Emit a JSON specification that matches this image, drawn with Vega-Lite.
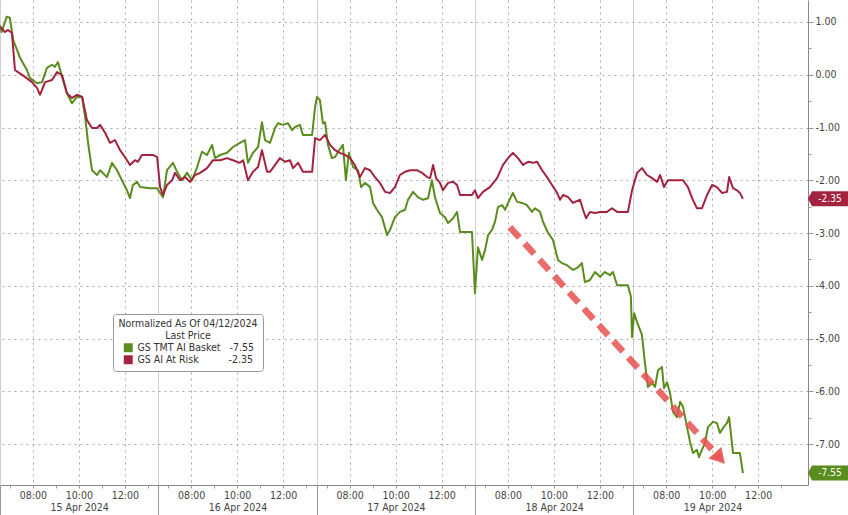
{
  "$schema": "https://vega.github.io/schema/vega-lite/v6.json",
  "width": 808,
  "height": 485,
  "autosize": "none",
  "padding": {"left": 0, "top": 0, "right": 40, "bottom": 30},
  "background": "white",
  "view": {"stroke": null},
  "config": {
    "font": "Liberation Sans Narrow, DejaVu Sans Condensed, sans-serif",
    "locale": {"number": {"decimal": ".", "thousands": ",", "grouping": [3], "currency": ["$", ""], "minus": "-"}},
    "axis": {"labelColor": "#444", "labelFontSize": 10.5, "tickColor": "#999", "domainColor": "#888", "title": null}
  },
  "datasets": {
    "series": [
      {"s":"GS TMT AI Basket","t":0.00,"v":0.94},{"s":"GS TMT AI Basket","t":0.07,"v":0.81},{"s":"GS TMT AI Basket","t":0.29,"v":1.10},{"s":"GS TMT AI Basket","t":0.43,"v":1.08},{"s":"GS TMT AI Basket","t":0.57,"v":0.66},{"s":"GS TMT AI Basket","t":0.74,"v":0.47},{"s":"GS TMT AI Basket","t":0.87,"v":0.32},{"s":"GS TMT AI Basket","t":1.17,"v":0.09},{"s":"GS TMT AI Basket","t":1.30,"v":-0.06},{"s":"GS TMT AI Basket","t":1.61,"v":-0.16},{"s":"GS TMT AI Basket","t":1.83,"v":-0.14},{"s":"GS TMT AI Basket","t":2.04,"v":0.13},{"s":"GS TMT AI Basket","t":2.26,"v":0.19},{"s":"GS TMT AI Basket","t":2.39,"v":0.15},{"s":"GS TMT AI Basket","t":2.52,"v":0.24},{"s":"GS TMT AI Basket","t":2.70,"v":-0.04},{"s":"GS TMT AI Basket","t":2.91,"v":-0.35},{"s":"GS TMT AI Basket","t":3.13,"v":-0.54},{"s":"GS TMT AI Basket","t":3.35,"v":-0.42},{"s":"GS TMT AI Basket","t":3.57,"v":-0.42},{"s":"GS TMT AI Basket","t":3.70,"v":-0.80},{"s":"GS TMT AI Basket","t":3.83,"v":-1.29},{"s":"GS TMT AI Basket","t":4.00,"v":-1.81},{"s":"GS TMT AI Basket","t":4.22,"v":-1.90},{"s":"GS TMT AI Basket","t":4.35,"v":-1.81},{"s":"GS TMT AI Basket","t":4.65,"v":-1.94},{"s":"GS TMT AI Basket","t":4.87,"v":-1.67},{"s":"GS TMT AI Basket","t":5.09,"v":-1.81},{"s":"GS TMT AI Basket","t":5.30,"v":-2.00},{"s":"GS TMT AI Basket","t":5.52,"v":-2.19},{"s":"GS TMT AI Basket","t":5.65,"v":-2.34},{"s":"GS TMT AI Basket","t":5.78,"v":-2.09},{"s":"GS TMT AI Basket","t":5.96,"v":-2.03},{"s":"GS TMT AI Basket","t":6.09,"v":-2.13},{"s":"GS TMT AI Basket","t":6.52,"v":-2.15},{"s":"GS TMT AI Basket","t":6.83,"v":-2.15},{"s":"GS TMT AI Basket","t":6.96,"v":-2.24},{"s":"GS TMT AI Basket","t":7.09,"v":-2.32},{"s":"GS TMT AI Basket","t":7.26,"v":-1.81},{"s":"GS TMT AI Basket","t":7.52,"v":-1.67},{"s":"GS TMT AI Basket","t":7.70,"v":-1.84},{"s":"GS TMT AI Basket","t":7.91,"v":-2.00},{"s":"GS TMT AI Basket","t":8.13,"v":-1.86},{"s":"GS TMT AI Basket","t":8.35,"v":-2.00},{"s":"GS TMT AI Basket","t":8.57,"v":-1.75},{"s":"GS TMT AI Basket","t":8.78,"v":-1.46},{"s":"GS TMT AI Basket","t":9.00,"v":-1.52},{"s":"GS TMT AI Basket","t":9.22,"v":-1.33},{"s":"GS TMT AI Basket","t":9.35,"v":-1.58},{"s":"GS TMT AI Basket","t":9.57,"v":-1.52},{"s":"GS TMT AI Basket","t":9.87,"v":-1.48},{"s":"GS TMT AI Basket","t":10.13,"v":-1.37},{"s":"GS TMT AI Basket","t":10.43,"v":-1.29},{"s":"GS TMT AI Basket","t":10.65,"v":-1.24},{"s":"GS TMT AI Basket","t":10.78,"v":-1.67},{"s":"GS TMT AI Basket","t":11.00,"v":-1.48},{"s":"GS TMT AI Basket","t":11.22,"v":-1.37},{"s":"GS TMT AI Basket","t":11.39,"v":-0.90},{"s":"GS TMT AI Basket","t":11.52,"v":-1.24},{"s":"GS TMT AI Basket","t":11.74,"v":-1.29},{"s":"GS TMT AI Basket","t":11.96,"v":-1.01},{"s":"GS TMT AI Basket","t":12.09,"v":-0.92},{"s":"GS TMT AI Basket","t":12.30,"v":-0.95},{"s":"GS TMT AI Basket","t":12.52,"v":-0.92},{"s":"GS TMT AI Basket","t":12.70,"v":-1.05},{"s":"GS TMT AI Basket","t":12.83,"v":-0.99},{"s":"GS TMT AI Basket","t":13.04,"v":-0.95},{"s":"GS TMT AI Basket","t":13.17,"v":-1.14},{"s":"GS TMT AI Basket","t":13.57,"v":-1.14},{"s":"GS TMT AI Basket","t":13.70,"v":-0.61},{"s":"GS TMT AI Basket","t":13.78,"v":-0.42},{"s":"GS TMT AI Basket","t":13.91,"v":-0.48},{"s":"GS TMT AI Basket","t":14.04,"v":-0.92},{"s":"GS TMT AI Basket","t":14.13,"v":-0.90},{"s":"GS TMT AI Basket","t":14.26,"v":-1.33},{"s":"GS TMT AI Basket","t":14.43,"v":-1.58},{"s":"GS TMT AI Basket","t":14.57,"v":-1.56},{"s":"GS TMT AI Basket","t":14.70,"v":-1.46},{"s":"GS TMT AI Basket","t":14.91,"v":-1.33},{"s":"GS TMT AI Basket","t":15.04,"v":-2.00},{"s":"GS TMT AI Basket","t":15.17,"v":-1.48},{"s":"GS TMT AI Basket","t":15.35,"v":-1.75},{"s":"GS TMT AI Basket","t":15.57,"v":-1.81},{"s":"GS TMT AI Basket","t":15.70,"v":-2.13},{"s":"GS TMT AI Basket","t":15.87,"v":-2.05},{"s":"GS TMT AI Basket","t":16.09,"v":-2.13},{"s":"GS TMT AI Basket","t":16.22,"v":-2.43},{"s":"GS TMT AI Basket","t":16.39,"v":-2.56},{"s":"GS TMT AI Basket","t":16.61,"v":-2.70},{"s":"GS TMT AI Basket","t":16.83,"v":-3.04},{"s":"GS TMT AI Basket","t":16.96,"v":-2.94},{"s":"GS TMT AI Basket","t":17.17,"v":-2.70},{"s":"GS TMT AI Basket","t":17.39,"v":-2.60},{"s":"GS TMT AI Basket","t":17.61,"v":-2.56},{"s":"GS TMT AI Basket","t":17.74,"v":-2.37},{"s":"GS TMT AI Basket","t":17.96,"v":-2.22},{"s":"GS TMT AI Basket","t":18.17,"v":-2.32},{"s":"GS TMT AI Basket","t":18.39,"v":-2.37},{"s":"GS TMT AI Basket","t":18.61,"v":-2.34},{"s":"GS TMT AI Basket","t":18.78,"v":-2.00},{"s":"GS TMT AI Basket","t":18.91,"v":-2.32},{"s":"GS TMT AI Basket","t":19.13,"v":-2.62},{"s":"GS TMT AI Basket","t":19.35,"v":-2.70},{"s":"GS TMT AI Basket","t":19.48,"v":-2.81},{"s":"GS TMT AI Basket","t":19.70,"v":-2.72},{"s":"GS TMT AI Basket","t":19.87,"v":-2.60},{"s":"GS TMT AI Basket","t":20.00,"v":-2.98},{"s":"GS TMT AI Basket","t":20.52,"v":-2.98},{"s":"GS TMT AI Basket","t":20.65,"v":-4.14},{"s":"GS TMT AI Basket","t":20.78,"v":-3.27},{"s":"GS TMT AI Basket","t":20.96,"v":-3.51},{"s":"GS TMT AI Basket","t":21.09,"v":-3.32},{"s":"GS TMT AI Basket","t":21.22,"v":-3.04},{"s":"GS TMT AI Basket","t":21.39,"v":-2.94},{"s":"GS TMT AI Basket","t":21.52,"v":-2.79},{"s":"GS TMT AI Basket","t":21.65,"v":-2.51},{"s":"GS TMT AI Basket","t":21.83,"v":-2.47},{"s":"GS TMT AI Basket","t":21.96,"v":-2.56},{"s":"GS TMT AI Basket","t":22.09,"v":-2.43},{"s":"GS TMT AI Basket","t":22.30,"v":-2.24},{"s":"GS TMT AI Basket","t":22.48,"v":-2.41},{"s":"GS TMT AI Basket","t":22.70,"v":-2.43},{"s":"GS TMT AI Basket","t":22.91,"v":-2.47},{"s":"GS TMT AI Basket","t":23.13,"v":-2.60},{"s":"GS TMT AI Basket","t":23.26,"v":-2.53},{"s":"GS TMT AI Basket","t":23.48,"v":-2.60},{"s":"GS TMT AI Basket","t":23.61,"v":-2.79},{"s":"GS TMT AI Basket","t":23.83,"v":-3.00},{"s":"GS TMT AI Basket","t":24.04,"v":-3.13},{"s":"GS TMT AI Basket","t":24.26,"v":-3.51},{"s":"GS TMT AI Basket","t":24.43,"v":-3.57},{"s":"GS TMT AI Basket","t":24.65,"v":-3.61},{"s":"GS TMT AI Basket","t":24.91,"v":-3.70},{"s":"GS TMT AI Basket","t":25.13,"v":-3.65},{"s":"GS TMT AI Basket","t":25.30,"v":-3.57},{"s":"GS TMT AI Basket","t":25.43,"v":-3.93},{"s":"GS TMT AI Basket","t":25.65,"v":-3.89},{"s":"GS TMT AI Basket","t":25.87,"v":-3.74},{"s":"GS TMT AI Basket","t":26.09,"v":-3.83},{"s":"GS TMT AI Basket","t":26.30,"v":-3.74},{"s":"GS TMT AI Basket","t":26.52,"v":-3.80},{"s":"GS TMT AI Basket","t":26.65,"v":-3.74},{"s":"GS TMT AI Basket","t":26.83,"v":-3.99},{"s":"GS TMT AI Basket","t":27.30,"v":-3.99},{"s":"GS TMT AI Basket","t":27.43,"v":-4.21},{"s":"GS TMT AI Basket","t":27.48,"v":-4.97},{"s":"GS TMT AI Basket","t":27.57,"v":-4.52},{"s":"GS TMT AI Basket","t":27.70,"v":-4.69},{"s":"GS TMT AI Basket","t":27.91,"v":-4.93},{"s":"GS TMT AI Basket","t":28.04,"v":-5.46},{"s":"GS TMT AI Basket","t":28.17,"v":-5.92},{"s":"GS TMT AI Basket","t":28.35,"v":-5.84},{"s":"GS TMT AI Basket","t":28.48,"v":-5.92},{"s":"GS TMT AI Basket","t":28.61,"v":-5.60},{"s":"GS TMT AI Basket","t":28.78,"v":-5.54},{"s":"GS TMT AI Basket","t":28.87,"v":-5.94},{"s":"GS TMT AI Basket","t":29.00,"v":-5.83},{"s":"GS TMT AI Basket","t":29.13,"v":-6.03},{"s":"GS TMT AI Basket","t":29.26,"v":-6.39},{"s":"GS TMT AI Basket","t":29.43,"v":-6.49},{"s":"GS TMT AI Basket","t":29.57,"v":-6.20},{"s":"GS TMT AI Basket","t":29.70,"v":-6.30},{"s":"GS TMT AI Basket","t":29.87,"v":-6.68},{"s":"GS TMT AI Basket","t":30.00,"v":-6.96},{"s":"GS TMT AI Basket","t":30.13,"v":-7.17},{"s":"GS TMT AI Basket","t":30.30,"v":-7.11},{"s":"GS TMT AI Basket","t":30.39,"v":-7.25},{"s":"GS TMT AI Basket","t":30.52,"v":-7.11},{"s":"GS TMT AI Basket","t":30.65,"v":-6.98},{"s":"GS TMT AI Basket","t":30.78,"v":-6.68},{"s":"GS TMT AI Basket","t":31.00,"v":-6.58},{"s":"GS TMT AI Basket","t":31.17,"v":-6.60},{"s":"GS TMT AI Basket","t":31.30,"v":-6.79},{"s":"GS TMT AI Basket","t":31.43,"v":-6.70},{"s":"GS TMT AI Basket","t":31.61,"v":-6.60},{"s":"GS TMT AI Basket","t":31.70,"v":-6.49},{"s":"GS TMT AI Basket","t":31.87,"v":-7.17},{"s":"GS TMT AI Basket","t":32.17,"v":-7.17},{"s":"GS TMT AI Basket","t":32.30,"v":-7.55},
      {"s":"GS AI At Risk","t":0.00,"v":0.91},{"s":"GS AI At Risk","t":0.22,"v":0.81},{"s":"GS AI At Risk","t":0.35,"v":0.85},{"s":"GS AI At Risk","t":0.52,"v":0.79},{"s":"GS AI At Risk","t":0.65,"v":0.09},{"s":"GS AI At Risk","t":0.78,"v":0.05},{"s":"GS AI At Risk","t":1.09,"v":-0.04},{"s":"GS AI At Risk","t":1.39,"v":-0.14},{"s":"GS AI At Risk","t":1.61,"v":-0.25},{"s":"GS AI At Risk","t":1.74,"v":-0.38},{"s":"GS AI At Risk","t":1.96,"v":-0.14},{"s":"GS AI At Risk","t":2.26,"v":-0.10},{"s":"GS AI At Risk","t":2.48,"v":0.05},{"s":"GS AI At Risk","t":2.70,"v":-0.01},{"s":"GS AI At Risk","t":2.91,"v":-0.35},{"s":"GS AI At Risk","t":3.13,"v":-0.44},{"s":"GS AI At Risk","t":3.35,"v":-0.38},{"s":"GS AI At Risk","t":3.57,"v":-0.42},{"s":"GS AI At Risk","t":3.78,"v":-0.86},{"s":"GS AI At Risk","t":4.00,"v":-1.01},{"s":"GS AI At Risk","t":4.22,"v":-1.01},{"s":"GS AI At Risk","t":4.35,"v":-0.95},{"s":"GS AI At Risk","t":4.57,"v":-1.10},{"s":"GS AI At Risk","t":4.78,"v":-1.29},{"s":"GS AI At Risk","t":5.00,"v":-1.24},{"s":"GS AI At Risk","t":5.22,"v":-1.43},{"s":"GS AI At Risk","t":5.43,"v":-1.56},{"s":"GS AI At Risk","t":5.65,"v":-1.71},{"s":"GS AI At Risk","t":5.87,"v":-1.62},{"s":"GS AI At Risk","t":6.00,"v":-1.65},{"s":"GS AI At Risk","t":6.17,"v":-1.52},{"s":"GS AI At Risk","t":6.65,"v":-1.52},{"s":"GS AI At Risk","t":6.83,"v":-1.56},{"s":"GS AI At Risk","t":6.96,"v":-2.13},{"s":"GS AI At Risk","t":7.09,"v":-2.28},{"s":"GS AI At Risk","t":7.26,"v":-2.09},{"s":"GS AI At Risk","t":7.48,"v":-2.00},{"s":"GS AI At Risk","t":7.61,"v":-1.86},{"s":"GS AI At Risk","t":7.83,"v":-2.00},{"s":"GS AI At Risk","t":8.04,"v":-1.94},{"s":"GS AI At Risk","t":8.26,"v":-2.03},{"s":"GS AI At Risk","t":8.48,"v":-1.90},{"s":"GS AI At Risk","t":8.70,"v":-1.86},{"s":"GS AI At Risk","t":9.00,"v":-1.77},{"s":"GS AI At Risk","t":9.26,"v":-1.62},{"s":"GS AI At Risk","t":9.57,"v":-1.62},{"s":"GS AI At Risk","t":9.87,"v":-1.58},{"s":"GS AI At Risk","t":10.13,"v":-1.62},{"s":"GS AI At Risk","t":10.43,"v":-1.67},{"s":"GS AI At Risk","t":10.57,"v":-1.62},{"s":"GS AI At Risk","t":10.78,"v":-2.00},{"s":"GS AI At Risk","t":11.00,"v":-1.84},{"s":"GS AI At Risk","t":11.22,"v":-1.75},{"s":"GS AI At Risk","t":11.39,"v":-1.43},{"s":"GS AI At Risk","t":11.61,"v":-1.84},{"s":"GS AI At Risk","t":11.74,"v":-1.84},{"s":"GS AI At Risk","t":11.96,"v":-1.71},{"s":"GS AI At Risk","t":12.17,"v":-1.58},{"s":"GS AI At Risk","t":12.39,"v":-1.65},{"s":"GS AI At Risk","t":12.61,"v":-1.62},{"s":"GS AI At Risk","t":12.74,"v":-1.77},{"s":"GS AI At Risk","t":12.96,"v":-1.67},{"s":"GS AI At Risk","t":13.17,"v":-1.84},{"s":"GS AI At Risk","t":13.57,"v":-1.84},{"s":"GS AI At Risk","t":13.70,"v":-1.20},{"s":"GS AI At Risk","t":13.91,"v":-1.24},{"s":"GS AI At Risk","t":14.13,"v":-1.14},{"s":"GS AI At Risk","t":14.35,"v":-1.33},{"s":"GS AI At Risk","t":14.57,"v":-1.43},{"s":"GS AI At Risk","t":14.78,"v":-1.48},{"s":"GS AI At Risk","t":15.00,"v":-1.52},{"s":"GS AI At Risk","t":15.22,"v":-1.58},{"s":"GS AI At Risk","t":15.43,"v":-1.71},{"s":"GS AI At Risk","t":15.65,"v":-1.94},{"s":"GS AI At Risk","t":15.87,"v":-1.77},{"s":"GS AI At Risk","t":16.09,"v":-1.81},{"s":"GS AI At Risk","t":16.30,"v":-1.94},{"s":"GS AI At Risk","t":16.52,"v":-2.05},{"s":"GS AI At Risk","t":16.74,"v":-2.22},{"s":"GS AI At Risk","t":16.96,"v":-2.24},{"s":"GS AI At Risk","t":17.17,"v":-2.13},{"s":"GS AI At Risk","t":17.39,"v":-1.90},{"s":"GS AI At Risk","t":17.61,"v":-1.84},{"s":"GS AI At Risk","t":17.83,"v":-1.81},{"s":"GS AI At Risk","t":18.13,"v":-1.81},{"s":"GS AI At Risk","t":18.35,"v":-1.86},{"s":"GS AI At Risk","t":18.57,"v":-1.94},{"s":"GS AI At Risk","t":18.70,"v":-1.96},{"s":"GS AI At Risk","t":18.83,"v":-1.71},{"s":"GS AI At Risk","t":18.96,"v":-1.96},{"s":"GS AI At Risk","t":19.13,"v":-2.05},{"s":"GS AI At Risk","t":19.26,"v":-2.19},{"s":"GS AI At Risk","t":19.48,"v":-2.05},{"s":"GS AI At Risk","t":19.70,"v":-2.03},{"s":"GS AI At Risk","t":19.87,"v":-2.09},{"s":"GS AI At Risk","t":20.00,"v":-2.28},{"s":"GS AI At Risk","t":20.52,"v":-2.28},{"s":"GS AI At Risk","t":20.65,"v":-2.19},{"s":"GS AI At Risk","t":20.78,"v":-2.34},{"s":"GS AI At Risk","t":21.00,"v":-2.22},{"s":"GS AI At Risk","t":21.30,"v":-2.13},{"s":"GS AI At Risk","t":21.61,"v":-1.96},{"s":"GS AI At Risk","t":21.87,"v":-1.71},{"s":"GS AI At Risk","t":22.09,"v":-1.58},{"s":"GS AI At Risk","t":22.30,"v":-1.48},{"s":"GS AI At Risk","t":22.52,"v":-1.58},{"s":"GS AI At Risk","t":22.74,"v":-1.71},{"s":"GS AI At Risk","t":22.96,"v":-1.65},{"s":"GS AI At Risk","t":23.17,"v":-1.67},{"s":"GS AI At Risk","t":23.35,"v":-1.65},{"s":"GS AI At Risk","t":23.57,"v":-1.81},{"s":"GS AI At Risk","t":23.78,"v":-1.94},{"s":"GS AI At Risk","t":24.00,"v":-2.09},{"s":"GS AI At Risk","t":24.22,"v":-2.24},{"s":"GS AI At Risk","t":24.35,"v":-2.37},{"s":"GS AI At Risk","t":24.48,"v":-2.28},{"s":"GS AI At Risk","t":24.70,"v":-2.32},{"s":"GS AI At Risk","t":24.91,"v":-2.43},{"s":"GS AI At Risk","t":25.22,"v":-2.37},{"s":"GS AI At Risk","t":25.35,"v":-2.56},{"s":"GS AI At Risk","t":25.48,"v":-2.72},{"s":"GS AI At Risk","t":25.65,"v":-2.60},{"s":"GS AI At Risk","t":25.87,"v":-2.62},{"s":"GS AI At Risk","t":26.09,"v":-2.60},{"s":"GS AI At Risk","t":26.39,"v":-2.60},{"s":"GS AI At Risk","t":26.61,"v":-2.53},{"s":"GS AI At Risk","t":26.83,"v":-2.60},{"s":"GS AI At Risk","t":27.30,"v":-2.60},{"s":"GS AI At Risk","t":27.48,"v":-2.19},{"s":"GS AI At Risk","t":27.70,"v":-1.86},{"s":"GS AI At Risk","t":27.91,"v":-1.77},{"s":"GS AI At Risk","t":28.13,"v":-1.90},{"s":"GS AI At Risk","t":28.35,"v":-1.96},{"s":"GS AI At Risk","t":28.57,"v":-2.03},{"s":"GS AI At Risk","t":28.70,"v":-1.90},{"s":"GS AI At Risk","t":28.87,"v":-2.13},{"s":"GS AI At Risk","t":29.04,"v":-2.00},{"s":"GS AI At Risk","t":29.70,"v":-2.00},{"s":"GS AI At Risk","t":29.91,"v":-2.13},{"s":"GS AI At Risk","t":30.09,"v":-2.34},{"s":"GS AI At Risk","t":30.30,"v":-2.53},{"s":"GS AI At Risk","t":30.52,"v":-2.53},{"s":"GS AI At Risk","t":30.74,"v":-2.28},{"s":"GS AI At Risk","t":30.96,"v":-2.09},{"s":"GS AI At Risk","t":31.17,"v":-2.13},{"s":"GS AI At Risk","t":31.39,"v":-2.24},{"s":"GS AI At Risk","t":31.61,"v":-2.22},{"s":"GS AI At Risk","t":31.70,"v":-1.94},{"s":"GS AI At Risk","t":31.87,"v":-2.15},{"s":"GS AI At Risk","t":32.04,"v":-2.19},{"s":"GS AI At Risk","t":32.17,"v":-2.24},{"s":"GS AI At Risk","t":32.30,"v":-2.35}
    ],
    "arrow": [{"t0": 22.17, "v0": -2.89, "t1": 31.30, "v1": -7.27}],
    "last": [{"s": "GS TMT AI Basket", "last": -7.55}, {"s": "GS AI At Risk", "last": -2.35}]
  },
  "resolve": {"axis": {"x": "independent", "y": "independent"}},
  "layer": [
    {
      "data": {"name": "series"},
      "mark": {"type": "line", "strokeWidth": 2, "strokeJoin": "round", "interpolate": "linear"},
      "encoding": {
        "x": {
          "field": "t", "type": "quantitative",
          "scale": {"domain": [0, 35.13], "nice": false, "zero": false},
          "axis": {
            "orient": "bottom",
            "values": [0.43,1.43,2.43,3.43,4.43,5.43,6.43,7.314,8.314,9.314,10.314,11.314,12.314,13.314,14.198,15.198,16.198,17.198,18.198,19.198,20.198,21.082,22.082,23.082,24.082,25.082,26.082,27.082,27.966,28.966,29.966,30.966,31.966,32.966,33.966],
            "labelExpr": "round(datum.value - floor(datum.value/6.884)*6.884 + 6.57) == 8 ? '08:00' : round(datum.value - floor(datum.value/6.884)*6.884 + 6.57) == 10 ? '10:00' : round(datum.value - floor(datum.value/6.884)*6.884 + 6.57) == 12 ? '12:00' : ''",
            "grid": true,
            "gridColor": "#aaaaaa",
            "gridDash": [2, 4],
            "gridOpacity": {"condition": {"test": "round(datum.value - floor(datum.value/6.884)*6.884 + 6.57) % 2 == 0", "value": 1}, "value": 0},
            "tickSize": 3,
            "labelPadding": 2,
            "labelFlush": false,
            "labelOverlap": false,
            "domain": true
          }
        },
        "y": {
          "field": "v", "type": "quantitative",
          "scale": {"domain": [-7.777, 1.417], "nice": false, "zero": false},
          "axis": {
            "orient": "right",
            "values": [-7, -6, -5, -4, -3, -2, -1, 0, 1],
            "format": ".2f",
            "grid": true,
            "gridColor": "#aaaaaa",
            "gridDash": [2, 4],
            "tickSize": 5,
            "labelPadding": 2,
            "domain": true
          }
        },
        "color": {
          "field": "s", "type": "nominal",
          "scale": {"domain": ["GS TMT AI Basket", "GS AI At Risk"], "range": ["#5b8c1e", "#a3233f"]},
          "legend": {
            "orient": "none",
            "legendX": 113,
            "legendY": 314,
            "title": ["Normalized As Of 04/12/2024", "Last Price"],
            "titleAnchor": "middle",
            "titleAlign": "center",
            "titleFontSize": 10.5,
            "titleFontWeight": "normal",
            "titleColor": "#333",
            "titlePadding": 1,
            "titleLineHeight": 12,
            "labelFontSize": 10.5,
            "labelColor": "#333",
            "labelExpr": "datum.label == 'GS TMT AI Basket' ? 'GS TMT AI Basket\u00a0\u00a0\u00a0-7.55' : 'GS AI At Risk\u00a0\u00a0\u00a0\u00a0\u00a0\u00a0\u00a0\u00a0\u00a0\u00a0-2.35'",
            "symbolType": "square",
            "symbolSize": 80,
            "symbolStrokeWidth": 0,
            "rowPadding": 1,
            "padding": 5,
            "strokeColor": "#999999",
            "fillColor": "white",
            "cornerRadius": 3
          }
        }
      }
    },
    {
      "data": {"name": "arrow"},
      "mark": {"type": "rule", "strokeWidth": 6.5, "strokeDash": [14, 8], "color": "#e8514f", "opacity": 0.85, "strokeCap": "butt"},
      "encoding": {
        "x": {
          "field": "t0", "type": "quantitative",
          "scale": {"domain": [0, 35.13], "nice": false, "zero": false},
          "axis": {
            "orient": "bottom",
            "values": [0, 6.884, 13.768, 20.652, 27.536],
            "labels": false,
            "grid": true,
            "gridColor": "#cfcfcf",
            "gridDash": [],
            "tickSize": 30,
            "tickColor": "#999",
            "domain": false
          }
        },
        "x2": {"field": "t1"},
        "y": {
          "field": "v0", "type": "quantitative",
          "scale": {"domain": [-7.777, 1.417], "nice": false, "zero": false},
          "axis": {
            "orient": "right",
            "values": [-7.5, -6.5, -5.5, -4.5, -3.5, -2.5, -1.5, -0.5, 0.5],
            "labels": false,
            "grid": false,
            "tickSize": 3,
            "domain": false
          }
        },
        "y2": {"field": "v1"}
      }
    },
    {
      "data": {"name": "arrow"},
      "mark": {"type": "point", "shape": "triangle-up", "filled": true, "size": 300, "angle": 138, "color": "#e8514f", "opacity": 0.9},
      "encoding": {
        "x": {
          "field": "t1", "type": "quantitative",
          "scale": {"domain": [0, 35.13], "nice": false, "zero": false},
          "axis": {
            "orient": "bottom",
            "values": [3.442, 10.326, 17.21, 24.094, 30.978],
            "labelExpr": "['15 Apr 2024','16 Apr 2024','17 Apr 2024','18 Apr 2024','19 Apr 2024'][floor(datum.value/6.884)]",
            "ticks": false,
            "grid": false,
            "domain": false,
            "labelPadding": 17,
            "labelFlush": false
          }
        },
        "y": {"field": "v1", "type": "quantitative", "scale": {"domain": [-7.777, 1.417], "nice": false, "zero": false}, "axis": null}
      }
    },
    {
      "data": {"name": "last"},
      "mark": {"type": "point", "filled": true, "opacity": 1, "size": 100, "shape": "M0,0 L0.8,-1.5 L8,-1.5 L8,1.5 L0.8,1.5 Z", "strokeWidth": 0},
      "encoding": {
        "x": {"value": "width"},
        "y": {"field": "last", "type": "quantitative", "scale": {"domain": [-7.777, 1.417], "nice": false, "zero": false}, "axis": null},
        "color": {"field": "s", "type": "nominal"}
      }
    },
    {
      "data": {"name": "last"},
      "mark": {"type": "text", "color": "white", "fontSize": 10, "dx": 22, "align": "center", "baseline": "middle"},
      "encoding": {
        "x": {"value": "width"},
        "y": {"field": "last", "type": "quantitative", "scale": {"domain": [-7.777, 1.417], "nice": false, "zero": false}, "axis": null},
        "text": {"field": "last", "type": "quantitative", "format": ".2f"}
      }
    }
  ]
}
